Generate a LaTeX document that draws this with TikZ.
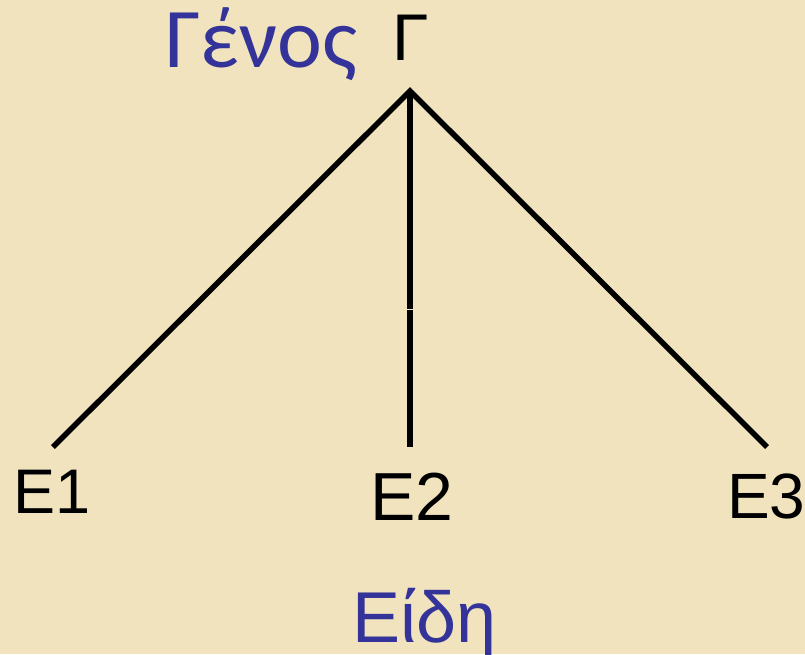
\documentclass[tikz,border=0pt]{standalone}
\usepackage{fontspec}
\setmainfont{Liberation Sans}
\newfontfamily\genosfont{Carlito}
\definecolor{parch}{RGB}{240,227,190}
\definecolor{greekblue}{RGB}{51,51,153}
\tikzset{
  lbl/.style={anchor=base west,inner sep=0pt,text=black},
  bluelbl/.style={anchor=base west,inner sep=0pt,text=greekblue},
  branch/.style={line width=5.5pt,black},
}
\begin{document}
\begin{tikzpicture}[x=1pt,y=-1pt]
\fill[parch] (0,0) rectangle (805,654);
\useasboundingbox (0,0) rectangle (805,654);
\coordinate (apex) at (410,91);
\coordinate (l) at (53,447);
\coordinate (mgap1) at (410,308.5);
\coordinate (mgap2) at (410,310);
\coordinate (m) at (410,447);
\coordinate (r) at (767,447);
\draw[branch,line join=miter] (l) -- (apex) -- (r);
\draw[branch] (apex) -- (mgap1);
\draw[branch] (mgap2) -- (m);
\node[bluelbl,font=\genosfont\fontsize{85}{85}\selectfont] (genos) at (165,67) {Γένος};
\node[lbl,font=\fontsize{66}{66}\selectfont] (G) at (392,60) {Γ};
\node[lbl,font=\fontsize{63}{63}\selectfont] (e1) at (13,513) {E1};
\node[lbl,font=\fontsize{68}{68}\selectfont] (e2) at (370,520) {E2};
\node[lbl,font=\fontsize{64}{64}\selectfont] (e3) at (727,518) {E3};
\node[bluelbl,font=\fontsize{72}{72}\selectfont] (eidi) at (352,642) {Είδη};
\end{tikzpicture}
\end{document}
